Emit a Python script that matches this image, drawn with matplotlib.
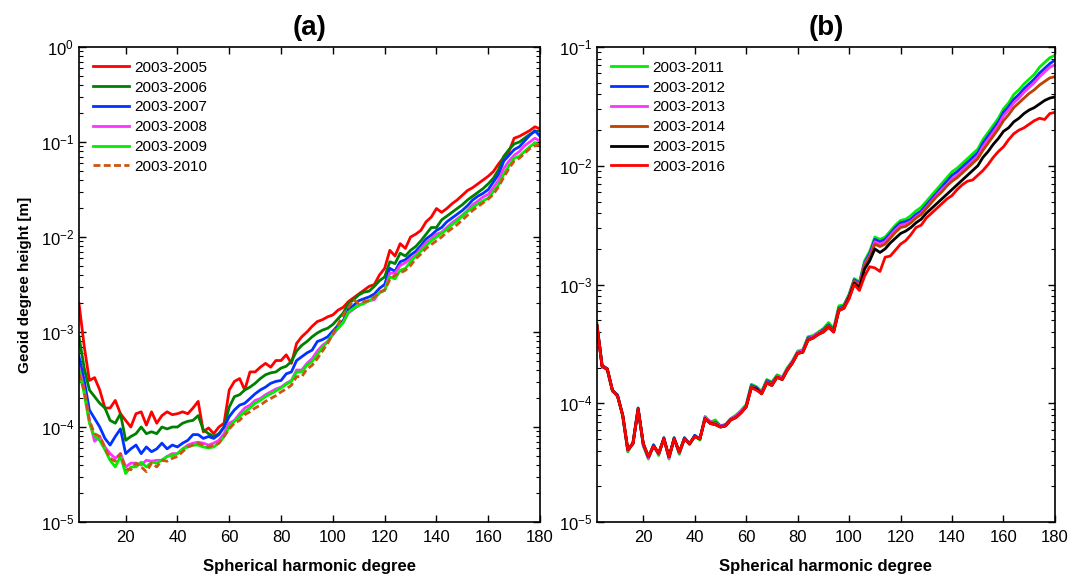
import numpy as np
import matplotlib
matplotlib.use("Agg")
import matplotlib.pyplot as plt

plt.rcParams['font.family'] = ['Liberation Sans', 'DejaVu Sans']
plt.rcParams['mathtext.default'] = 'regular'

# spherical harmonic degree (every 2nd degree)
deg = np.arange(2, 181, 2)

# panel (a): log10 of geoid degree height [m]
a05 = [-2.70,-3.15,-3.51,-3.48,-3.61,-3.80,-3.80,-3.72,-3.86,-3.93,
       -4.00,-3.86,-3.84,-3.98,-3.84,-3.96,-3.88,-3.84,-3.87,-3.86,
       -3.84,-3.86,-3.80,-3.73,-4.05,-4.01,-4.07,-4.00,-3.96,-3.61,
       -3.52,-3.49,-3.61,-3.42,-3.42,-3.37,-3.33,-3.37,-3.30,-3.30,
       -3.24,-3.33,-3.12,-3.05,-3.00,-2.94,-2.89,-2.87,-2.84,-2.82,
       -2.77,-2.74,-2.68,-2.64,-2.60,-2.56,-2.52,-2.50,-2.40,-2.33,
       -2.14,-2.20,-2.07,-2.12,-2.00,-1.97,-1.93,-1.84,-1.79,-1.70,
       -1.74,-1.70,-1.65,-1.61,-1.56,-1.51,-1.48,-1.44,-1.40,-1.36,
       -1.31,-1.23,-1.16,-1.10,-0.96,-0.94,-0.91,-0.88,-0.84,-0.86]
a06 = [-3.05,-3.38,-3.61,-3.68,-3.75,-3.80,-3.93,-3.96,-3.86,-4.14,
       -4.10,-4.07,-4.00,-4.07,-4.05,-4.07,-4.00,-4.02,-4.00,-4.00,
       -3.96,-3.94,-3.93,-3.88,-4.03,-4.07,-4.10,-4.07,-4.00,-3.79,
       -3.68,-3.66,-3.61,-3.58,-3.54,-3.49,-3.45,-3.43,-3.42,-3.38,
       -3.36,-3.31,-3.20,-3.14,-3.10,-3.05,-3.01,-2.98,-2.96,-2.92,
       -2.86,-2.80,-2.70,-2.66,-2.61,-2.58,-2.57,-2.52,-2.46,-2.42,
       -2.26,-2.28,-2.17,-2.20,-2.14,-2.10,-2.04,-1.97,-1.90,-1.90,
       -1.82,-1.78,-1.74,-1.70,-1.66,-1.61,-1.57,-1.53,-1.49,-1.44,
       -1.38,-1.29,-1.15,-1.08,-1.02,-1.00,-0.96,-0.92,-0.89,-0.88]
a07 = [-3.26,-3.51,-3.82,-3.91,-4.00,-4.12,-4.19,-4.10,-4.02,-4.28,
       -4.23,-4.19,-4.28,-4.21,-4.26,-4.23,-4.17,-4.23,-4.19,-4.21,
       -4.17,-4.14,-4.08,-4.08,-4.12,-4.10,-4.12,-4.08,-4.00,-3.89,
       -3.82,-3.77,-3.75,-3.70,-3.65,-3.61,-3.58,-3.54,-3.52,-3.51,
       -3.44,-3.42,-3.30,-3.26,-3.22,-3.19,-3.10,-3.08,-3.05,-2.99,
       -2.93,-2.88,-2.76,-2.72,-2.67,-2.65,-2.63,-2.60,-2.54,-2.50,
       -2.33,-2.36,-2.26,-2.24,-2.19,-2.15,-2.09,-2.02,-1.98,-1.93,
       -1.90,-1.84,-1.80,-1.76,-1.72,-1.67,-1.61,-1.57,-1.54,-1.50,
       -1.42,-1.34,-1.20,-1.14,-1.08,-1.05,-0.99,-0.93,-0.88,-0.94]
a08 = [-3.37,-3.61,-3.93,-4.15,-4.10,-4.21,-4.28,-4.33,-4.28,-4.42,
       -4.38,-4.38,-4.40,-4.35,-4.36,-4.35,-4.35,-4.31,-4.28,-4.28,
       -4.23,-4.19,-4.17,-4.16,-4.17,-4.19,-4.17,-4.14,-4.07,-3.96,
       -3.93,-3.86,-3.80,-3.77,-3.72,-3.70,-3.66,-3.63,-3.60,-3.58,
       -3.54,-3.51,-3.40,-3.40,-3.33,-3.28,-3.20,-3.14,-3.10,-3.03,
       -2.96,-2.90,-2.80,-2.76,-2.72,-2.69,-2.67,-2.66,-2.58,-2.56,
       -2.38,-2.38,-2.30,-2.27,-2.23,-2.19,-2.12,-2.06,-2.02,-1.97,
       -1.95,-1.90,-1.85,-1.81,-1.77,-1.72,-1.66,-1.62,-1.58,-1.55,
       -1.48,-1.40,-1.28,-1.20,-1.14,-1.10,-1.04,-1.00,-0.96,-0.99]
a09 = [-3.40,-3.65,-3.96,-4.10,-4.14,-4.24,-4.35,-4.42,-4.31,-4.49,
       -4.42,-4.42,-4.37,-4.42,-4.37,-4.38,-4.35,-4.31,-4.30,-4.28,
       -4.23,-4.21,-4.19,-4.19,-4.21,-4.22,-4.21,-4.17,-4.10,-4.00,
       -3.94,-3.89,-3.84,-3.80,-3.75,-3.72,-3.68,-3.65,-3.62,-3.59,
       -3.55,-3.52,-3.42,-3.42,-3.35,-3.31,-3.24,-3.16,-3.10,-3.02,
       -2.96,-2.90,-2.79,-2.75,-2.72,-2.70,-2.67,-2.64,-2.59,-2.56,
       -2.42,-2.44,-2.35,-2.33,-2.26,-2.20,-2.15,-2.09,-2.04,-2.00,
       -1.96,-1.92,-1.87,-1.83,-1.78,-1.73,-1.69,-1.65,-1.62,-1.59,
       -1.52,-1.45,-1.34,-1.25,-1.17,-1.15,-1.10,-1.05,-1.01,-1.03]
a10 = [-3.44,-3.61,-3.93,-4.07,-4.10,-4.22,-4.33,-4.36,-4.28,-4.44,
       -4.45,-4.38,-4.42,-4.47,-4.38,-4.42,-4.35,-4.36,-4.33,-4.31,
       -4.26,-4.21,-4.19,-4.17,-4.19,-4.21,-4.19,-4.17,-4.10,-4.02,
       -3.96,-3.93,-3.87,-3.84,-3.80,-3.77,-3.73,-3.70,-3.67,-3.63,
       -3.60,-3.56,-3.47,-3.47,-3.39,-3.35,-3.28,-3.20,-3.12,-3.02,
       -2.92,-2.82,-2.74,-2.66,-2.70,-2.68,-2.67,-2.63,-2.58,-2.56,
       -2.45,-2.40,-2.38,-2.35,-2.30,-2.23,-2.18,-2.12,-2.08,-2.04,
       -2.00,-1.95,-1.91,-1.87,-1.82,-1.77,-1.72,-1.68,-1.64,-1.60,
       -1.55,-1.47,-1.37,-1.28,-1.20,-1.17,-1.12,-1.07,-1.04,-1.03]

# panel (b)
b11 = [-3.33,-3.68,-3.72,-3.90,-3.93,-4.11,-4.41,-4.33,-4.04,-4.36,
       -4.47,-4.35,-4.44,-4.29,-4.47,-4.29,-4.43,-4.29,-4.35,-4.27,
       -4.31,-4.11,-4.16,-4.14,-4.19,-4.18,-4.13,-4.10,-4.06,-4.01,
       -3.84,-3.86,-3.90,-3.80,-3.82,-3.76,-3.78,-3.70,-3.64,-3.56,
       -3.55,-3.44,-3.43,-3.40,-3.37,-3.32,-3.37,-3.18,-3.17,-3.08,
       -2.95,-2.98,-2.80,-2.72,-2.60,-2.62,-2.60,-2.55,-2.50,-2.46,
       -2.45,-2.42,-2.38,-2.35,-2.30,-2.25,-2.20,-2.15,-2.10,-2.05,
       -2.02,-1.98,-1.94,-1.90,-1.86,-1.78,-1.72,-1.66,-1.60,-1.52,
       -1.47,-1.40,-1.36,-1.31,-1.27,-1.23,-1.17,-1.13,-1.09,-1.07]
b12 = [-3.34,-3.68,-3.71,-3.89,-3.93,-4.10,-4.40,-4.33,-4.04,-4.35,
       -4.46,-4.35,-4.43,-4.29,-4.46,-4.29,-4.42,-4.29,-4.34,-4.27,
       -4.30,-4.12,-4.16,-4.16,-4.19,-4.18,-4.13,-4.11,-4.07,-4.02,
       -3.85,-3.87,-3.91,-3.81,-3.83,-3.77,-3.79,-3.71,-3.65,-3.57,
       -3.56,-3.45,-3.44,-3.41,-3.38,-3.34,-3.38,-3.20,-3.18,-3.09,
       -2.96,-2.99,-2.82,-2.74,-2.62,-2.64,-2.62,-2.57,-2.52,-2.48,
       -2.47,-2.45,-2.41,-2.38,-2.33,-2.28,-2.23,-2.18,-2.13,-2.08,
       -2.05,-2.01,-1.97,-1.93,-1.89,-1.81,-1.75,-1.69,-1.63,-1.55,
       -1.50,-1.44,-1.40,-1.35,-1.31,-1.27,-1.22,-1.18,-1.14,-1.11]
b13 = [-3.34,-3.69,-3.72,-3.89,-3.94,-4.10,-4.40,-4.34,-4.05,-4.35,
       -4.46,-4.36,-4.43,-4.30,-4.46,-4.30,-4.42,-4.30,-4.34,-4.28,
       -4.30,-4.12,-4.15,-4.17,-4.19,-4.19,-4.13,-4.11,-4.07,-4.02,
       -3.86,-3.88,-3.91,-3.82,-3.84,-3.77,-3.79,-3.71,-3.65,-3.57,
       -3.56,-3.46,-3.44,-3.41,-3.39,-3.35,-3.39,-3.21,-3.19,-3.10,
       -2.97,-3.00,-2.83,-2.76,-2.64,-2.66,-2.64,-2.59,-2.54,-2.50,
       -2.49,-2.47,-2.43,-2.40,-2.35,-2.30,-2.25,-2.20,-2.16,-2.11,
       -2.08,-2.04,-2.00,-1.96,-1.92,-1.84,-1.78,-1.72,-1.66,-1.58,
       -1.53,-1.47,-1.43,-1.38,-1.34,-1.30,-1.25,-1.21,-1.17,-1.15]
b14 = [-3.35,-3.69,-3.71,-3.89,-3.94,-4.10,-4.39,-4.34,-4.05,-4.34,
       -4.45,-4.36,-4.42,-4.30,-4.45,-4.30,-4.41,-4.30,-4.34,-4.28,
       -4.30,-4.13,-4.16,-4.17,-4.20,-4.19,-4.14,-4.12,-4.08,-4.03,
       -3.86,-3.88,-3.92,-3.82,-3.84,-3.78,-3.80,-3.72,-3.66,-3.58,
       -3.57,-3.46,-3.45,-3.42,-3.39,-3.35,-3.39,-3.21,-3.19,-3.10,
       -2.97,-3.01,-2.84,-2.77,-2.66,-2.68,-2.66,-2.61,-2.56,-2.52,
       -2.51,-2.48,-2.44,-2.41,-2.36,-2.31,-2.26,-2.22,-2.17,-2.13,
       -2.10,-2.06,-2.02,-1.98,-1.94,-1.87,-1.81,-1.75,-1.69,-1.62,
       -1.57,-1.51,-1.47,-1.43,-1.39,-1.36,-1.32,-1.29,-1.26,-1.25]
b15 = [-3.35,-3.69,-3.71,-3.89,-3.94,-4.10,-4.39,-4.34,-4.05,-4.34,
       -4.45,-4.36,-4.42,-4.30,-4.45,-4.30,-4.41,-4.30,-4.34,-4.28,
       -4.30,-4.13,-4.17,-4.18,-4.20,-4.19,-4.14,-4.12,-4.08,-4.03,
       -3.87,-3.88,-3.92,-3.83,-3.85,-3.78,-3.80,-3.72,-3.66,-3.58,
       -3.57,-3.47,-3.45,-3.42,-3.40,-3.36,-3.40,-3.22,-3.20,-3.11,
       -2.99,-3.03,-2.87,-2.80,-2.70,-2.73,-2.70,-2.65,-2.61,-2.57,
       -2.55,-2.52,-2.48,-2.45,-2.40,-2.36,-2.32,-2.28,-2.24,-2.20,
       -2.16,-2.12,-2.08,-2.04,-2.00,-1.93,-1.88,-1.82,-1.77,-1.71,
       -1.68,-1.63,-1.60,-1.56,-1.53,-1.51,-1.48,-1.45,-1.43,-1.42]
b16 = [-3.35,-3.69,-3.71,-3.89,-3.94,-4.10,-4.39,-4.34,-4.05,-4.34,
       -4.45,-4.36,-4.42,-4.30,-4.45,-4.30,-4.41,-4.30,-4.34,-4.28,
       -4.30,-4.13,-4.17,-4.18,-4.20,-4.19,-4.14,-4.12,-4.08,-4.03,
       -3.87,-3.89,-3.92,-3.83,-3.85,-3.78,-3.80,-3.72,-3.66,-3.58,
       -3.57,-3.47,-3.45,-3.42,-3.40,-3.36,-3.40,-3.22,-3.20,-3.12,
       -3.00,-3.05,-2.93,-2.85,-2.86,-2.89,-2.77,-2.76,-2.71,-2.66,
       -2.63,-2.58,-2.52,-2.50,-2.44,-2.40,-2.36,-2.32,-2.28,-2.25,
       -2.20,-2.16,-2.13,-2.12,-2.08,-2.04,-1.99,-1.93,-1.88,-1.84,
       -1.78,-1.73,-1.70,-1.68,-1.65,-1.62,-1.60,-1.61,-1.56,-1.55]

labels_a = ['2003-2005', '2003-2006', '2003-2007', '2003-2008', '2003-2009', '2003-2010']
labels_b = ['2003-2011', '2003-2012', '2003-2013', '2003-2014', '2003-2015', '2003-2016']
series_a = [a05, a06, a07, a08, a09, a10]
series_b = [b11, b12, b13, b14, b15, b16]
colors_a = ['#ff0000', '#008000', '#0033ff', '#ff33ff', '#00ee00', '#cc5511']
colors_b = ['#00ee00', '#0033ff', '#ff33ff', '#c04000', '#000000', '#ff0000']


def style_axis(ax, ymin, ymax, title):
  ax.set_yscale('log')
  ax.set_xlim(2, 180)
  ax.set_ylim(ymin, ymax)
  ax.set_xticks(np.arange(20, 181, 20))
  ax.tick_params(which='both', direction='in', top=True, right=True, labelsize=12)
  ax.tick_params(which='major', length=5, width=1)
  ax.tick_params(which='minor', length=3, width=0.8)
  ax.tick_params(axis='x', pad=6)
  for s in ax.spines.values():
    s.set_linewidth(1.2)
  ax.set_title(title, fontsize=20, fontweight='bold', pad=9)
  ax.set_xlabel('Spherical harmonic degree', fontsize=12, fontweight='bold', labelpad=10)


fig = plt.figure(figsize=(10.84, 5.77), dpi=100)
axa = fig.add_axes([0.0729, 0.0953, 0.4253, 0.8232])
axb = fig.add_axes([0.5507, 0.0953, 0.4225, 0.8232])

for vals, lab, c in zip(series_a, labels_a, colors_a):
  ls = (0, (2.5, 1.2)) if lab == '2003-2010' else '-'
  axa.plot(deg, 10 ** np.array(vals), color=c, lw=2.0, ls=ls, label=lab)
for vals, lab, c in zip(series_b, labels_b, colors_b):
  axb.plot(deg, 10 ** np.array(vals), color=c, lw=2.0, label=lab)

style_axis(axa, 1e-5, 1e0, '(a)')
style_axis(axb, 1e-5, 1e-1, '(b)')
axa.set_ylabel('Geoid degree height [m]', fontsize=11, fontweight='bold', labelpad=6)

for ax in (axa, axb):
  ax.legend(loc='upper left', frameon=False, fontsize=11, handlelength=2.4,
            labelspacing=0.38, handletextpad=0.3, borderaxespad=0.5)

fig.savefig('out.png', dpi=100)
